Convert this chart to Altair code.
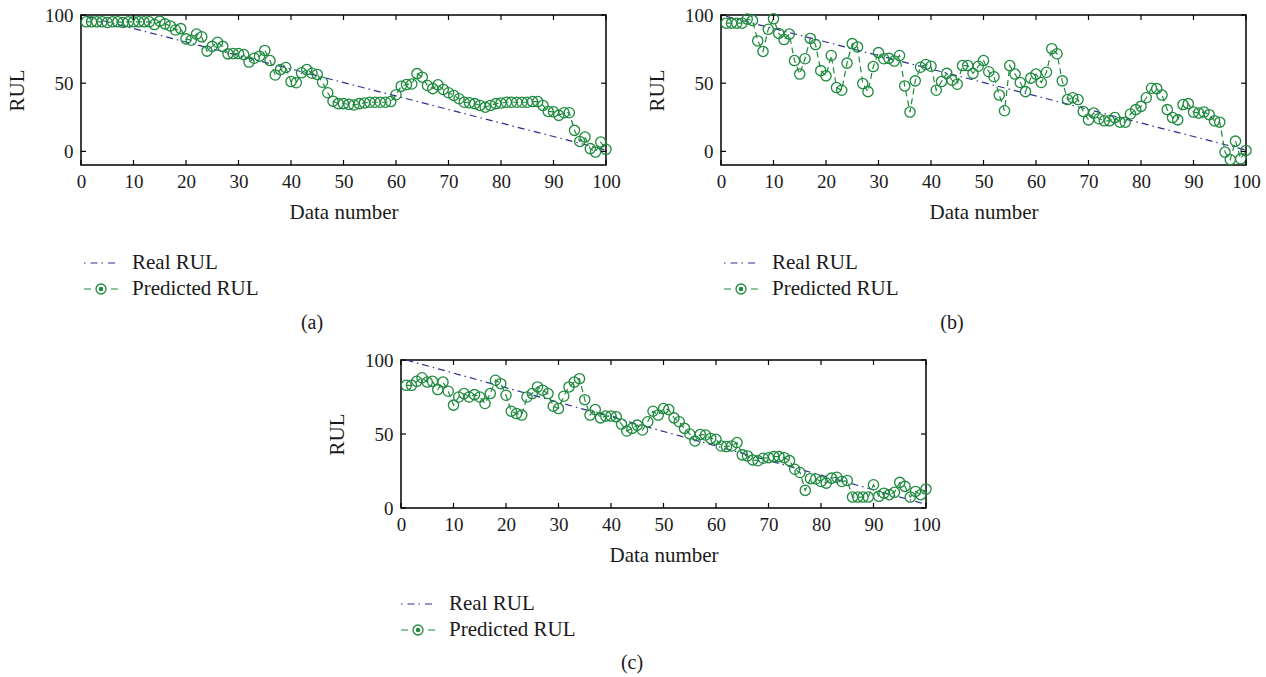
import altair as alt
import pandas as pd

# ---------------- data ----------------
idx = list(range(1, 101))

pred_a = [95, 95, 95, 95, 94.5, 95, 95, 94.5, 95, 95,
          95, 95, 95, 93, 95.5, 93.5, 92, 89, 90, 82.5,
          81.5, 86, 84, 73.5, 77, 80, 77, 71.5, 71.7, 71.7,
          71, 65.5, 68.3, 69.8, 74, 66.6, 56, 60, 61.5, 51.2,
          50.3, 57.6, 60, 57.3, 56.4, 50.7, 43, 36.8, 35, 35,
          34.5, 34, 35, 35.5, 36, 36, 36, 36, 36.5, 41.5,
          47.8, 49, 49.4, 57, 54.4, 48.3, 46, 48.8, 45.4, 43,
          41, 38.6, 36, 35.6, 35, 33.7, 32.4, 33.7, 35, 35.4,
          36, 36, 36, 36, 36, 36.5, 36.5, 33.7, 29.3, 29,
          26.4, 28.3, 28.3, 15.4, 7.3, 10.5, 2, -0.5, 6.8, 1.5]

pred_b = [94, 94, 94, 94, 97, 96, 81, 73.3, 89.5, 97.2,
          86.5, 82, 86, 66.6, 56.7, 67.9, 82.8, 78.3, 59.2, 55.4,
          70.3, 46.8, 44.8, 64.7, 79, 76.6, 49.7, 43.8, 62.2, 72.4,
          67.9, 68.2, 66.2, 70.3, 48, 28.8, 51.7, 61.7, 63.7, 62.4,
          44.8, 51.2, 57.2, 52.2, 49.2, 62.9, 62.9, 57.2, 62.4, 66.6,
          58.4, 54.7, 41.3, 29.8, 62.9, 56.7, 50.5, 43.8, 53.7, 56.7,
          50.5, 58, 75.3, 71.6, 51.7, 38, 39.3, 38, 29.3, 23.1,
          28.1, 23.9, 22.4, 22.4, 24.8, 21.4, 21.4, 27.4, 30.6, 33,
          39.3, 46.3, 46, 41.3, 30.6, 24.8, 23.1, 34.3, 35, 28.8,
          28.1, 28.8, 26.9, 22.4, 21.4, -0.5, -6, 7.5, -5.5, 0.7]

pred_c = [82.9, 82.9, 85.6, 88, 85.1, 85.6, 80, 85.1, 78.9, 69.5,
          75, 77.3, 75, 76.6, 75, 70.6, 77.3, 86.3, 84, 76.2,
          65.4, 63.8, 62.8, 75, 77.3, 81.8, 79.6, 77.3, 68.8, 67.2,
          75.5, 81.8, 85.1, 87.4, 73.2, 62.8, 66.5, 60.9, 62.1, 62.1,
          61.6, 56.7, 52, 53.8, 56, 52.7, 58.3, 65.4, 62.8, 67.2,
          66.5, 60.9, 58.3, 53.8, 50, 45.3, 49.7, 49.3, 47, 46.4,
          41.9, 41.5, 41.9, 44.2, 35.9, 35.2, 32.5, 31.9, 33.6, 34,
          34.7, 34.7, 34, 32, 26.2, 24, 11.9, 19.8, 19.6, 17.9,
          16.8, 20.2, 20.8, 17.9, 18.6, 7.4, 7.4, 7.4, 7.4, 15.7,
          7.9, 10, 9, 10.6, 17.3, 14.6, 7.4, 11.2, 9, 12.8]

# Real RUL: straight lines, endpoints
real_x = [1, 100]
real_a = [99, 1]
real_b = [99, 1]
real_c = [100, 2.5]

x_ticks = [0, 10, 20, 30, 40, 50, 60, 70, 80, 90, 100]
y_ticks = [0, 50, 100]
legend_labels = ["Real RUL", "Predicted RUL"]
panel_tags = ["(a)", "(b)", "(c)"]
x_title = "Data number"
y_title = "RUL"

# ---------------- style ----------------
BLUE = "#2f2f8f"
GREEN = "#1d8a3d"
FONT = "Liberation Serif"
TXT = "#1a1a1a"
W = 525
TICK = 5


def panel(pred, real, ydom, h, tag, dx, r1, r2, rl):
    df = pd.DataFrame({"i": idx, "pred": pred})
    rdf = pd.DataFrame({"i": real_x, "real": real})
    xt = pd.DataFrame({"t": x_ticks})
    yt = pd.DataFrame({"t": y_ticks})
    one = pd.DataFrame({"k": [0]})

    xs = alt.Scale(domain=[0, 100], nice=False, zero=False)
    ys = alt.Scale(domain=ydom, nice=False, zero=False)
    xax = alt.Axis(values=x_ticks, title=x_title, ticks=False, tickSize=0,
                   domain=False, grid=False, labelPadding=7, titlePadding=10,
                   labelFontSize=19, titleFontSize=21, labelFlush=False,
                   labelFont=FONT, titleFont=FONT, labelColor=TXT, titleColor=TXT,
                   titleFontWeight="normal")
    yax = alt.Axis(values=y_ticks, title=y_title, ticks=False, tickSize=0,
                   domain=False, grid=False, labelPadding=8, titlePadding=17,
                   labelFontSize=19, titleFontSize=21,
                   labelFont=FONT, titleFont=FONT, labelColor=TXT, titleColor=TXT,
                   titleFontWeight="normal")

    def X(f):
        return alt.X(f, type="quantitative", scale=xs, axis=xax)

    def Y(f):
        return alt.Y(f, type="quantitative", scale=ys, axis=yax)

    real_line = alt.Chart(rdf).mark_line(
        color=BLUE, strokeWidth=1.2, strokeDash=[7, 4, 1.5, 4]
    ).encode(x=X("i"), y=Y("real"))
    pred_line = alt.Chart(df).mark_line(
        color=GREEN, strokeWidth=1.2, strokeDash=[6, 4]
    ).encode(x=X("i"), y=Y("pred"))
    pred_pts = alt.Chart(df).mark_point(
        shape="circle", filled=False, size=105, color=GREEN, strokeWidth=1.3, opacity=1
    ).encode(x=X("i"), y=Y("pred"))

    # inward ticks
    xt_top = alt.Chart(xt).mark_rule(color="black", strokeWidth=1.2).encode(
        x=X("t"), y=alt.value(0), y2=alt.value(TICK))
    xt_bot = alt.Chart(xt).mark_rule(color="black", strokeWidth=1.2).encode(
        x=X("t"), y=alt.value(h - TICK), y2=alt.value(h))
    yt_left = alt.Chart(yt).mark_rule(color="black", strokeWidth=1.2).encode(
        y=Y("t"), x=alt.value(0), x2=alt.value(TICK))
    yt_right = alt.Chart(yt).mark_rule(color="black", strokeWidth=1.2).encode(
        y=Y("t"), x=alt.value(W - TICK), x2=alt.value(W))

    # legend (drawn below the plot)
    leg_real = alt.Chart(one).mark_rule(
        color=BLUE, strokeWidth=1.2, strokeDash=[1.5, 5, 7, 4]
    ).encode(x=alt.value(dx), x2=alt.value(dx + 34), y=alt.value(r1), y2=alt.value(r1))
    leg_pred = alt.Chart(one).mark_rule(
        color=GREEN, strokeWidth=1.2, strokeDash=[7, 20, 7]
    ).encode(x=alt.value(dx), x2=alt.value(dx + 34), y=alt.value(r2), y2=alt.value(r2))
    leg_ring = alt.Chart(one).mark_point(
        shape="circle", filled=False, size=100, color=GREEN, strokeWidth=1.3, opacity=1
    ).encode(x=alt.value(dx + 17), y=alt.value(r2))
    leg_dot = alt.Chart(one).mark_point(
        shape="circle", filled=True, size=20, color=GREEN, opacity=1
    ).encode(x=alt.value(dx + 17), y=alt.value(r2))
    txt_kw = dict(align="left", baseline="middle", font=FONT, fontSize=21, color=TXT)
    leg_t1 = alt.Chart(one).mark_text(**txt_kw).encode(
        x=alt.value(dx + 48), y=alt.value(r1), text=alt.value(legend_labels[0]))
    leg_t2 = alt.Chart(one).mark_text(**txt_kw).encode(
        x=alt.value(dx + 48), y=alt.value(r2), text=alt.value(legend_labels[1]))
    tag_t = alt.Chart(one).mark_text(
        align="center", baseline="middle", font=FONT, fontSize=20, color=TXT
    ).encode(x=alt.value(231), y=alt.value(rl), text=alt.value(tag))

    return alt.layer(
        real_line, pred_line, pred_pts,
        xt_top, xt_bot, yt_left, yt_right,
        leg_real, leg_pred, leg_ring, leg_dot, leg_t1, leg_t2, tag_t,
    ).properties(width=W, height=h)


pa = panel(pred_a, real_a, [-10, 100], 150, panel_tags[0], 3, 248, 274, 308)
pb = panel(pred_b, real_b, [-10, 100], 150, panel_tags[1], 3, 248, 274, 308)
pc = panel(pred_c, real_c, [0, 100], 148, panel_tags[2], 0, 244, 270, 303)

chart = alt.vconcat(
    alt.hconcat(pa, pb, spacing=24),
    pc,
    spacing=16,
    center=True,
).properties(
    padding={"left": 5, "top": 5, "right": 5, "bottom": 5},
    background="white",
).configure_view(
    stroke="black", strokeWidth=1.5
)

chart.save("out.html", embed_options={"renderer": "svg", "actions": False})
